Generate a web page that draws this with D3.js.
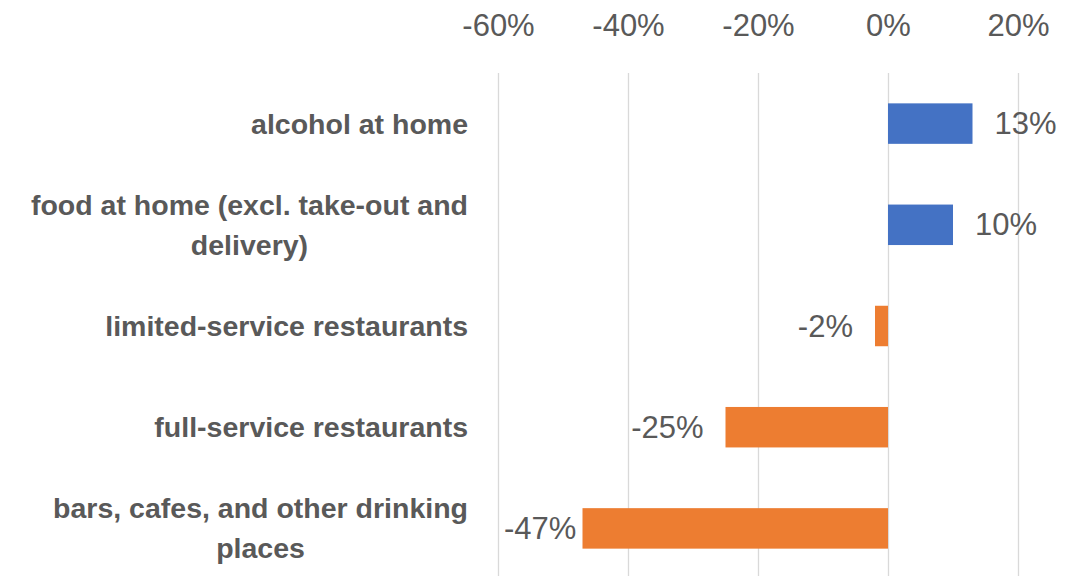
<!DOCTYPE html>
<html>
<head>
<meta charset="utf-8">
<script src="https://cdn.jsdelivr.net/npm/d3@7"></script>
<style>
  html, body { margin: 0; padding: 0; background: #fff; }
  svg { display: block; }
</style>
</head>
<body>
<svg id="chart" width="1084" height="576"></svg>
<script>
// Change in spending by category (percent)
const categories = [
  ["alcohol at home"],
  ["food at home (excl. take-out and", "delivery)"],
  ["limited-service restaurants"],
  ["full-service restaurants"],
  ["bars, cafes, and other drinking", "places"]
];
const values = [13, 10, -2, -25, -47];
const tickValues = [-60, -40, -20, 0, 20];
const tickLabels = ["-60%", "-40%", "-20%", "0%", "20%"];

const W = 1084, H = 576;
const margin = { left: 498, right: 66, top: 73, bottom: -3 };

const svg = d3.select("#chart");
const font = "'Liberation Sans', Arial, sans-serif";

const x = d3.scaleLinear()
  .domain([-60, 20])
  .range([margin.left, W - margin.right]);

const y = d3.scaleBand()
  .domain(d3.range(categories.length))
  .range([margin.top, H - margin.bottom])
  .paddingInner(0.6)
  .paddingOuter(0.3);

// vertical gridlines
svg.append("g")
  .selectAll("line")
  .data(tickValues)
  .join("line")
  .attr("x1", d => Math.round(x(d)) + 0.5)
  .attr("x2", d => Math.round(x(d)) + 0.5)
  .attr("y1", margin.top)
  .attr("y2", H)
  .attr("stroke", "#d9d9d9")
  .attr("stroke-width", 1.3);

// top axis tick labels
const axis = d3.axisTop(x)
  .tickValues(tickValues)
  .tickFormat((d, i) => tickLabels[i])
  .tickSize(0)
  .tickPadding(0);

const gAxis = svg.append("g")
  .attr("transform", "translate(0,36)")
  .call(axis);
gAxis.select(".domain").remove();
gAxis.selectAll("text")
  .attr("font-family", font)
  .attr("font-size", 31)
  .attr("fill", "#595959");

// bars
svg.append("g")
  .selectAll("rect")
  .data(values)
  .join("rect")
  .attr("x", d => x(Math.min(0, d)))
  .attr("width", d => Math.abs(x(d) - x(0)))
  .attr("y", (d, i) => y(i))
  .attr("height", y.bandwidth())
  .attr("fill", d => d >= 0 ? "#4472c4" : "#ed7d31");

// value labels
const gap = 22;
const vlabels = svg.append("g")
  .selectAll("text")
  .data(values)
  .join("text")
  .attr("font-family", font)
  .attr("font-size", 31)
  .attr("fill", "#595959")
  .attr("dominant-baseline", "central")
  .attr("y", (d, i) => y(i) + y.bandwidth() / 2)
  .text(d => d + "%");

vlabels.each(function(d) {
  const t = d3.select(this);
  const w = this.getComputedTextLength();
  if (d >= 0) {
    t.attr("x", x(d) + gap);
  } else {
    // keep the label inside the plot area
    let left = x(d) - gap - w;
    left = Math.max(left, x(-60) + 6);
    t.attr("x", left);
  }
});

// category labels (wrapped lines centred, block right-aligned)
const labelRight = 468;
const lineH = 40;
const gCat = svg.append("g");
categories.forEach((lines, i) => {
  const cy = y(i) + y.bandwidth() / 2;
  const t = gCat.append("text")
    .attr("font-family", font)
    .attr("font-size", 28.5)
    .attr("font-weight", "bold")
    .attr("fill", "#595959")
    .attr("text-anchor", "middle")
    .attr("dominant-baseline", "central");
  const spans = lines.map((s, k) => t.append("tspan")
    .attr("y", cy + (k - (lines.length - 1) / 2) * lineH)
    .text(s));
  const maxW = d3.max(spans, s => s.node().getComputedTextLength());
  spans.forEach(s => s.attr("x", labelRight - maxW / 2));
});
</script>
</body>
</html>
